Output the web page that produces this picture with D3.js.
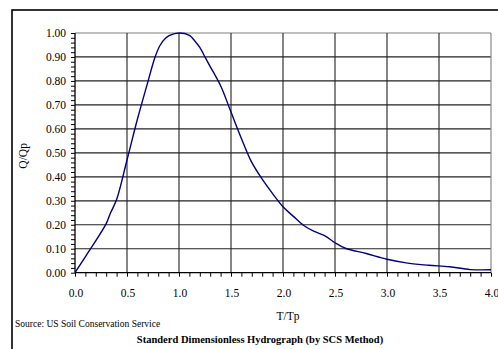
<!DOCTYPE html>
<html><head><meta charset="utf-8">
<script src="https://cdn.jsdelivr.net/npm/d3@7"></script>
<style>body{margin:0;background:#fff}svg{display:block}text{font-family:"Liberation Serif","Times New Roman",serif;fill:#000}</style>
</head><body><svg id="c" width="498" height="349"></svg>
<script>
const tRatio = [0,0.15,0.3,0.34,0.4,0.5,0.6,0.7,0.77,0.82,0.87,0.91,1.0,1.1,1.15,1.2,1.25,1.3,1.4,1.5,1.6,1.7,1.8,1.9,2.0,2.1,2.2,2.3,2.4,2.5,2.6,2.8,3.0,3.2,3.4,3.6,3.8,4.0];
const qRatio = [0,0.10,0.205,0.248,0.305,0.47,0.64,0.795,0.90,0.95,0.978,0.99,1.0,0.99,0.968,0.94,0.90,0.86,0.78,0.67,0.56,0.46,0.39,0.33,0.275,0.235,0.197,0.172,0.155,0.125,0.102,0.080,0.056,0.040,0.031,0.025,0.013,0.012];
const xTicks = [0,0.5,1.0,1.5,2.0,2.5,3.0,3.5,4.0];
const yTicks = [0,0.1,0.2,0.3,0.4,0.5,0.6,0.7,0.8,0.9,1.0];
const xTitle = "T/Tp", yTitle = "Q/Qp";
const source = "Source: US Soil Conservation Service";
const title = "Standerd Dimensionless Hydrograph (by SCS Method)";

const svg = d3.select("#c");
const L=75, R=491, T=33, B=272.7;
const x = d3.scaleLinear().domain([0,4]).range([L,R]);
const y = d3.scaleLinear().domain([0,1]).range([B,T]);

svg.append("rect").attr("x",12).attr("y",10).attr("width",600).attr("height",400)
  .attr("fill","#fff").attr("stroke","#000").attr("stroke-width",1.6);

// grid
svg.append("g").selectAll("line").data(yTicks.slice(1)).join("line")
  .attr("x1",L).attr("x2",R).attr("y1",d=>y(d)).attr("y2",d=>y(d))
  .attr("stroke",(d,i)=>d===1?"#808080":"#222").attr("stroke-width",1.2);
svg.append("g").selectAll("line").data(xTicks.slice(1,-1)).join("line")
  .attr("y1",T).attr("y2",B).attr("x1",d=>x(d)).attr("x2",d=>x(d))
  .attr("stroke","#222").attr("stroke-width",1.1);
svg.append("line").attr("x1",R).attr("x2",R).attr("y1",T).attr("y2",B).attr("stroke","#888").attr("stroke-width",1.2);

// axes
const yMinor = d3.range(0,1.0001,0.02);
const xMinor = d3.range(0,4.0001,0.1);
const ax = svg.append("g").attr("transform",`translate(0,${B})`)
  .call(d3.axisBottom(x).tickValues(xMinor).tickSize(4).tickFormat(""));
ax.select(".domain").remove();
ax.selectAll("line").attr("stroke","#000");
const ay = svg.append("g").attr("transform",`translate(${L},0)`)
  .call(d3.axisLeft(y).tickValues(yMinor).tickSize(4).tickFormat(""));
ay.select(".domain").remove();
ay.selectAll("line").attr("stroke","#000");
svg.append("line").attr("x1",L).attr("x2",R).attr("y1",B).attr("y2",B).attr("stroke","#000").attr("stroke-width",1.3);
svg.append("line").attr("x1",L).attr("x2",L).attr("y1",T).attr("y2",B).attr("stroke","#000").attr("stroke-width",1.3);

// labels
svg.append("g").selectAll("text").data(yTicks).join("text")
  .attr("x",66).attr("y",d=>y(d)+4).attr("text-anchor","end")
  .style("font-size","11.5px").text(d=>d3.format(".2f")(d));
svg.append("g").selectAll("text").data(xTicks).join("text")
  .attr("x",d=>x(d)+1).attr("y",297).attr("text-anchor","middle")
  .style("font-size","11.5px").text(d=>d3.format(".1f")(d));
svg.append("text").attr("x",288).attr("y",320).attr("text-anchor","middle")
  .style("font-size","11.5px").text(xTitle);
svg.append("text").attr("transform",`translate(27,${(T+B)/2+3}) rotate(-90)`).attr("text-anchor","middle")
  .style("font-size","11.5px").text(yTitle);
svg.append("text").attr("x",15).attr("y",327).style("font-size","9.5px").text(source);
svg.append("text").attr("x",260).attr("y",343).attr("text-anchor","middle")
  .style("font-size","10.5px").style("font-weight","bold").text(title);

// curve
const pts = tRatio.map((t,i)=>[t,qRatio[i]]);
svg.append("path").datum(pts)
  .attr("d",d3.line().x(d=>x(d[0])).y(d=>y(d[1])).curve(d3.curveCatmullRom.alpha(0.5)))
  .attr("fill","none").attr("stroke","#000080").attr("stroke-width",1.4);
</script></body></html>
